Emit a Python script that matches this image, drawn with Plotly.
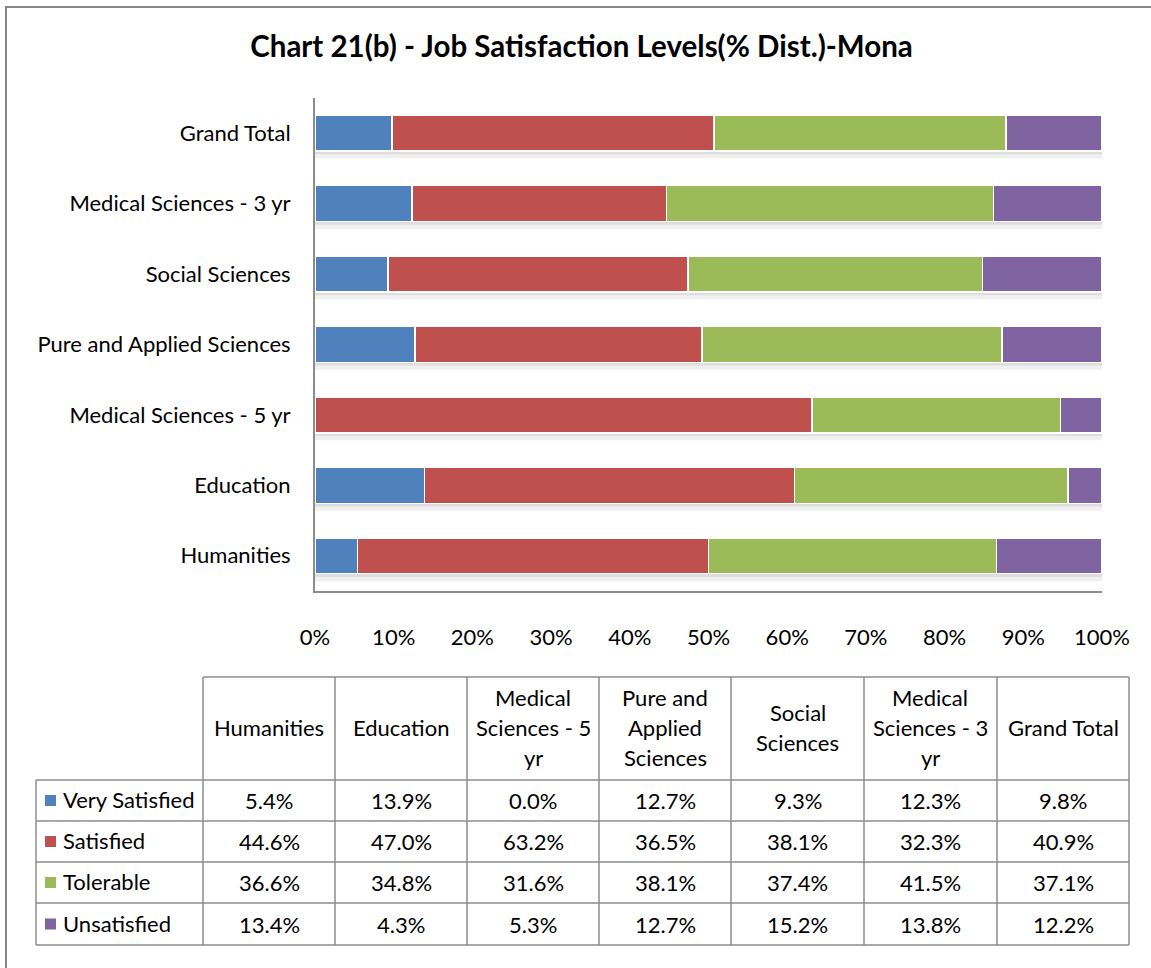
import plotly.graph_objects as go

# Faculties (bottom to top on the bar chart, left to right in the table)
categories = ["Humanities", "Education", "Medical Sciences - 5 yr",
              "Pure and Applied Sciences", "Social Sciences",
              "Medical Sciences - 3 yr", "Grand Total"]
header_lines = [["Humanities"], ["Education"], ["Medical", "Sciences - 5", "yr"],
                ["Pure and", "Applied", "Sciences"], ["Social", "Sciences"],
                ["Medical", "Sciences - 3", "yr"], ["Grand Total"]]

series_names = ["Very Satisfied", "Satisfied", "Tolerable", "Unsatisfied"]
very_satisfied = [5.4, 13.9, 0.0, 12.7, 9.3, 12.3, 9.8]
satisfied = [44.6, 47.0, 63.2, 36.5, 38.1, 32.3, 40.9]
tolerable = [36.6, 34.8, 31.6, 38.1, 37.4, 41.5, 37.1]
unsatisfied = [13.4, 4.3, 5.3, 12.7, 15.2, 13.8, 12.2]
series_values = [very_satisfied, satisfied, tolerable, unsatisfied]
colors = ["#4F81BD", "#C0504D", "#9BBB59", "#8064A2"]

tick_vals = list(range(0, 101, 10))
tick_text = [f"{v}%" for v in tick_vals]

W, H = 1151, 968
FONT = "Lato"
GRID = "#8C8C8C"


def px(x):
    return x / W


def py(y):
    return 1 - y / H


fig = go.Figure()
for name, vals, col in zip(series_names, series_values, colors):
    fig.add_trace(go.Bar(
        y=categories, x=vals, name=name, orientation="h",
        marker=dict(color=col, line=dict(color="white", width=1.5)),
        width=0.51, showlegend=False,
    ))

shapes = []
annotations = []

# outer frame
shapes.append(dict(type="rect", xref="paper", yref="paper",
                   x0=px(6), x1=px(1160), y0=py(980), y1=py(7),
                   line=dict(color="#878787", width=2)))

# soft drop shadow under each bar (two fading bands)
for i in range(len(categories)):
    for off, depth, alpha in [(0.0, 0.045, 0.13), (0.045, 0.06, 0.06)]:
        shapes.append(dict(type="rect", xref="x", yref="y", layer="below",
                           x0=0, x1=100, y0=i - 0.255 - off - depth, y1=i - 0.255 - off,
                           fillcolor=f"rgba(0,0,0,{alpha})", line=dict(width=0)))

# data table grid
col_edges = [203, 335, 467, 599, 731, 864, 997, 1129]
row_edges = [780, 821, 862, 903, 945]
header_top = 677
legend_left = 36
line_style = dict(color=GRID, width=1.5)
shapes.append(dict(type="line", xref="paper", yref="paper",
                   x0=px(col_edges[0]), x1=px(col_edges[-1]), y0=py(header_top), y1=py(header_top),
                   line=line_style))
for y in row_edges:
    shapes.append(dict(type="line", xref="paper", yref="paper",
                       x0=px(legend_left), x1=px(col_edges[-1]), y0=py(y), y1=py(y), line=line_style))
for x in col_edges:
    shapes.append(dict(type="line", xref="paper", yref="paper",
                       x0=px(x), x1=px(x), y0=py(header_top), y1=py(row_edges[-1]), line=line_style))
shapes.append(dict(type="line", xref="paper", yref="paper",
                   x0=px(legend_left), x1=px(legend_left), y0=py(row_edges[0]), y1=py(row_edges[-1]),
                   line=line_style))

cell_font = dict(family=FONT, size=22, color="black")

# header text, one annotation per line
for j, lines in enumerate(header_lines):
    cx = (col_edges[j] + col_edges[j + 1]) / 2
    cy = (header_top + row_edges[0]) / 2 - 1.5
    n = len(lines)
    for k, line in enumerate(lines):
        yy = cy + (k - (n - 1) / 2) * 30
        annotations.append(dict(xref="paper", yref="paper", x=px(cx), y=py(yy),
                                text=line, showarrow=False, xanchor="center", yanchor="middle",
                                font=cell_font))

# body rows: legend key + values
for i, (name, vals, col) in enumerate(zip(series_names, series_values, colors)):
    cy = (row_edges[i] + row_edges[i + 1]) / 2
    shapes.append(dict(type="rect", xref="paper", yref="paper",
                       x0=px(45), x1=px(56), y0=py(cy + 5.5), y1=py(cy - 5.5),
                       fillcolor=col, line=dict(width=0)))
    annotations.append(dict(xref="paper", yref="paper", x=px(61), y=py(cy - 1),
                            text=name, showarrow=False, xanchor="left", yanchor="middle",
                            font=cell_font))
    for j, v in enumerate(vals):
        cx = (col_edges[j] + col_edges[j + 1]) / 2
        annotations.append(dict(xref="paper", yref="paper", x=px(cx), y=py(cy),
                                text=f"{v:.1f}%", showarrow=False, xanchor="center", yanchor="middle",
                                font=cell_font))

fig.update_layout(
    width=W, height=H,
    margin=dict(l=0, r=0, t=0, b=0, autoexpand=False),
    paper_bgcolor="white", plot_bgcolor="white",
    barmode="stack", barnorm="percent", bargap=0.49,
    title=dict(text="<b>Chart 21(b) - Job Satisfaction Levels(% Dist.)-Mona</b>",
               x=px(581.5), xanchor="center", y=py(47), yanchor="middle",
               font=dict(family=FONT, size=29.5, color="black")),
    xaxis=dict(domain=[px(315), px(1102)], range=[0, 100], automargin=False,
               tickvals=tick_vals, ticktext=tick_text, showgrid=False, zeroline=False,
               showline=True, linecolor=GRID, linewidth=2,
               tickfont=dict(family=FONT, size=22, color="black"), ticklabelstandoff=26,
               fixedrange=True),
    yaxis=dict(domain=[py(591), py(98)], showgrid=False, zeroline=False, automargin=False,
               showline=True, linecolor=GRID, linewidth=2,
               tickfont=dict(family=FONT, size=22, color="black"), ticklabelstandoff=18,
               fixedrange=True),
    shapes=shapes, annotations=annotations,
)

fig.write_html("out.html")
